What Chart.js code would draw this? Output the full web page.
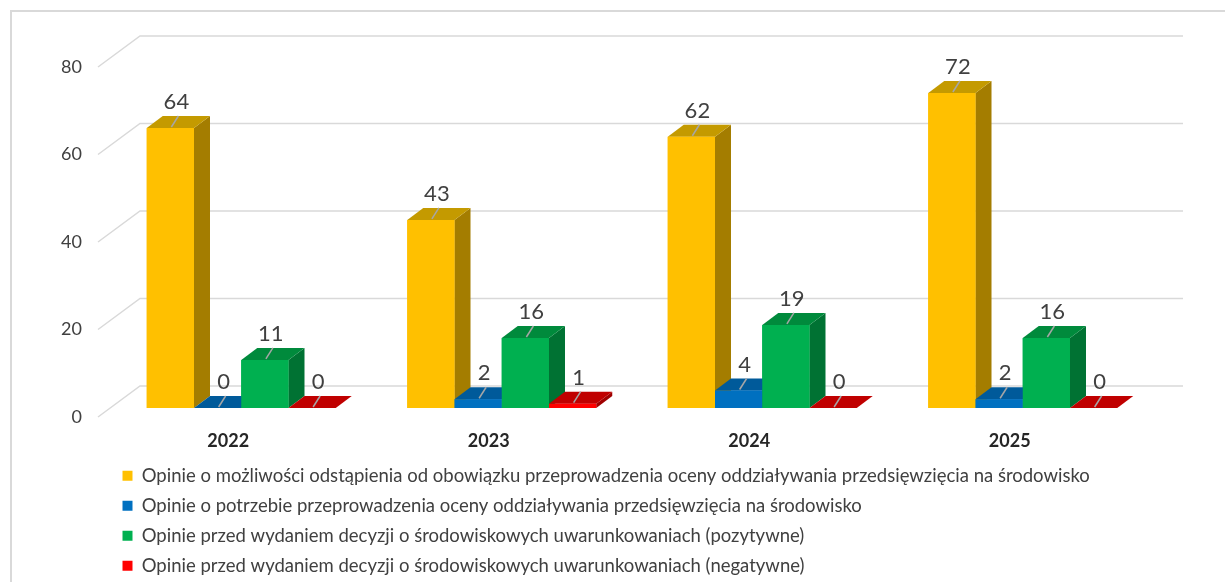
<!DOCTYPE html>
<html>
<head>
<meta charset="utf-8">
<script src="https://cdn.jsdelivr.net/npm/chart.js@4.4.1/dist/chart.umd.min.js"></script>
<style>
  html, body { margin: 0; padding: 0; background: #fff; overflow: hidden; }
  #frame { position: absolute; left: 10px; top: 10px; width: 1400px; height: 800px;
           border-left: 2px solid #d9d9d9; border-top: 2px solid #d9d9d9; }
  #wrap { position: absolute; left: 0; top: 0; width: 1225px; height: 582px; }
</style>
</head>
<body>
<div id="frame"></div>
<div id="wrap"><canvas id="myChart"></canvas></div>
<script>
// data
const years = ['2022', '2023', '2024', '2025'];
const seriesNames = [
  'Opinie o możliwości odstąpienia od obowiązku przeprowadzenia oceny oddziaływania przedsięwzięcia na środowisko',
  'Opinie o potrzebie przeprowadzenia oceny oddziaływania przedsięwzięcia na środowisko',
  'Opinie przed wydaniem decyzji o środowiskowych uwarunkowaniach (pozytywne)',
  'Opinie przed wydaniem decyzji o środowiskowych uwarunkowaniach (negatywne)'
];
const odstapienie = [64, 43, 62, 72];
const potrzeba = [0, 2, 4, 2];
const pozytywne = [11, 16, 19, 16];
const negatywne = [0, 1, 0, 0];
const yTicks = [0, 20, 40, 60, 80];

// colours: front, top, side
const frontColors = ['#FFC000', '#0070C0', '#00B050', '#FF0000'];
const topColors = ['#C49A00', '#005A9A', '#008A3C', '#C00000'];
const sideColors = ['#A47D00', '#004C82', '#007233', '#A00000'];

const DX = 16, DY = -12; // bar depth

var bars3d = {
    id: 'bars3d',
    beforeDatasetsDraw(chart) {
        const ctx = chart.ctx;
        const area = chart.chartArea;
        const y = chart.scales.y;
        ctx.save();
        ctx.strokeStyle = '#d9d9d9';
        ctx.lineWidth = 1.5;
        y.ticks.forEach(t => {
            const py = y.getPixelForValue(t.value);
            ctx.beginPath();
            ctx.moveTo(area.left - 13, py + 9);
            ctx.lineTo(area.left + 29, py - 22);
            ctx.lineTo(area.right + 30, py - 22);
            ctx.stroke();
        });
        ctx.restore();
    },
    afterDatasetsDraw(chart) {
        const ctx = chart.ctx;
        const metas = chart.data.datasets.map((d, i) => chart.getDatasetMeta(i));
        const poly = (pts, color) => {
            ctx.fillStyle = color;
            ctx.beginPath();
            ctx.moveTo(pts[0][0], pts[0][1]);
            for (let k = 1; k < pts.length; k++) ctx.lineTo(pts[k][0], pts[k][1]);
            ctx.closePath();
            ctx.fill();
        };
        ctx.save();
        for (let c = 0; c < chart.data.labels.length; c++) {
            for (let d = 0; d < metas.length; d++) {
                const el = metas[d].data[c];
                const p = el.getProps(['x', 'y', 'base', 'width'], true);
                const l = p.x - p.width / 2, r = p.x + p.width / 2;
                poly([[r, p.y], [r + DX, p.y + DY], [r + DX, p.base + DY], [r, p.base]], sideColors[d]);
                poly([[l, p.y], [l + DX, p.y + DY], [r + DX, p.y + DY], [r, p.y]], topColors[d]);
                el.draw(ctx);
            }
        }
        // value labels with leader lines
        ctx.font = '22px Lato';
        ctx.fillStyle = '#404040';
        ctx.textAlign = 'center';
        ctx.textBaseline = 'middle';
        ctx.strokeStyle = '#a6a6a6';
        ctx.lineWidth = 1.5;
        metas.forEach((meta, d) => {
            meta.data.forEach((el, c) => {
                const p = el.getProps(['x', 'y'], true);
                const v = chart.data.datasets[d].data[c];
                ctx.beginPath();
                ctx.moveTo(p.x + 1, p.y - 1);
                ctx.lineTo(p.x + 8, p.y - 12);
                ctx.stroke();
                ctx.fillText(String(v), p.x + 6, p.y - 26);
            });
        });
        ctx.restore();
    }
};

var ctx = document.getElementById('myChart');
var myChart = new Chart(ctx, {
    type: 'bar',
    data: {
        labels: years,
        datasets: [
            { label: seriesNames[0], data: odstapienie, backgroundColor: frontColors[0] },
            { label: seriesNames[1], data: potrzeba, backgroundColor: frontColors[1] },
            { label: seriesNames[2], data: pozytywne, backgroundColor: frontColors[2] },
            { label: seriesNames[3], data: negatywne, backgroundColor: frontColors[3] }
        ]
    },
    options: {
        responsive: true,
        maintainAspectRatio: false,
        animation: false,
        datasets: {
            bar: { categoryPercentage: 0.7255, barPercentage: 1, borderWidth: 0 }
        },
        layout: { padding: { left: 61, right: 72, top: 58, bottom: -3 } },
        plugins: {
            tooltip: { enabled: false },
            legend: {
                position: 'bottom',
                align: 'start',
                fullSize: false,
                labels: {
                    boxWidth: 10,
                    boxHeight: 10,
                    padding: 11.5,
                    color: '#404040',
                    font: { family: 'Lato', size: 18.5 }
                }
            }
        },
        scales: {
            y: {
                min: 0,
                max: 80,
                afterBuildTicks(scale) { scale.ticks = yTicks.map(v => ({ value: v })); },
                afterFit(scale) { scale.width = 50; },
                grid: { display: false, drawTicks: false },
                border: { display: false },
                ticks: {
                    padding: 29,
                    labelOffset: 9,
                    color: '#404040',
                    font: { family: 'Lato', size: 18 }
                }
            },
            x: {
                afterFit(scale) { scale.height = 47; },
                grid: { display: false, drawTicks: false },
                border: { display: false },
                ticks: {
                    padding: 22,
                    labelOffset: -13,
                    color: '#262626',
                    font: { family: 'Lato', size: 18, weight: 'bold' }
                }
            }
        }
    },
    plugins: [bars3d]
});
</script>
</body>
</html>
